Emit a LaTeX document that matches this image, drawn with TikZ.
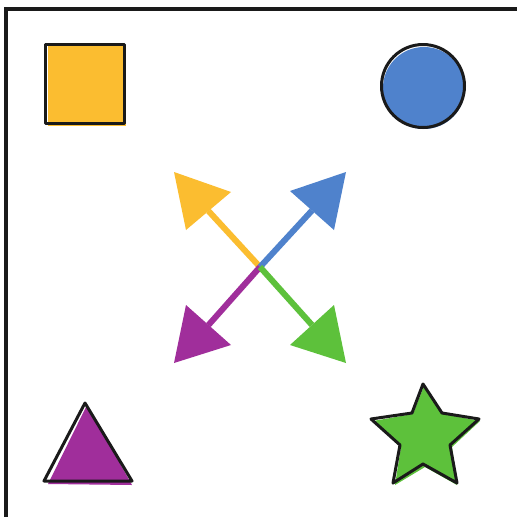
\documentclass[tikz,border=0pt]{standalone}
\usetikzlibrary{calc}
\definecolor{cyel}{HTML}{FBBD30}
\definecolor{cblue}{HTML}{4F82CC}
\definecolor{cpur}{HTML}{A02E9B}
\definecolor{cgrn}{HTML}{5DC13B}
\definecolor{cink}{HTML}{1A1A1A}
\tikzset{
  shapeline/.style={draw=cink,line width=3pt,line join=round},
  shaft/.style={line width=6pt},
  head/.style={draw=none}
}
\begin{document}
\begin{tikzpicture}[x=1pt,y=-1pt]
\useasboundingbox (0,0) rectangle (517,517);
\fill[white] (0,0) rectangle (517,517);
% frame
\draw[cink,line width=4pt] (6,520) -- (6,8.5) -- (520,8.5);
% square
\fill[cyel] (48,46) rectangle (126,126);
\draw[shapeline] (45,44) rectangle (124,123);
% circle
\fill[cblue] (424,88) circle (41);
\draw[shapeline] (423,86) circle (41.5);
% triangle
\fill[cpur] (87,405) -- (48,484) -- (132,485) -- cycle;
\draw[shapeline] (85,403) -- (44,481) -- (132,481) -- cycle;
% star
\fill[cgrn] (424,386) -- (443,414) -- (480,421) -- (452,447) -- (457,485) -- (425,467) -- (395,485) -- (401,447) -- (373,421) -- (413,414) -- cycle;
\draw[shapeline] (423,384) -- (442,413) -- (479,419) -- (450,445) -- (457,483) -- (423,464) -- (393,483) -- (400,445) -- (371,419) -- (412,413) -- cycle;
% arrows
\coordinate (c) at (260,267);
\coordinate (yt) at (174,172); \coordinate (ya) at (231,192); \coordinate (yb) at (186,230);
\coordinate (bt) at (346,172); \coordinate (ba) at (290,191); \coordinate (bb) at (334,230);
\coordinate (pt) at (174,363); \coordinate (pa) at (186,305); \coordinate (pb) at (231,345);
\coordinate (gt) at (346,363); \coordinate (ga) at (290,345); \coordinate (gb) at (334,305);
\draw[shaft,cyel] (c) -- ($(ya)!0.5!(yb)$);
\draw[shaft,cblue] (c) -- ($(ba)!0.5!(bb)$);
\draw[shaft,cpur] (c) -- ($(pa)!0.5!(pb)$);
\draw[shaft,cgrn] (c) -- ($(ga)!0.5!(gb)$);
\fill[head,cyel] (yt) -- (ya) -- (yb) -- cycle;
\fill[head,cblue] (bt) -- (ba) -- (bb) -- cycle;
\fill[head,cpur] (pt) -- (pa) -- (pb) -- cycle;
\fill[head,cgrn] (gt) -- (ga) -- (gb) -- cycle;
\end{tikzpicture}
\end{document}
